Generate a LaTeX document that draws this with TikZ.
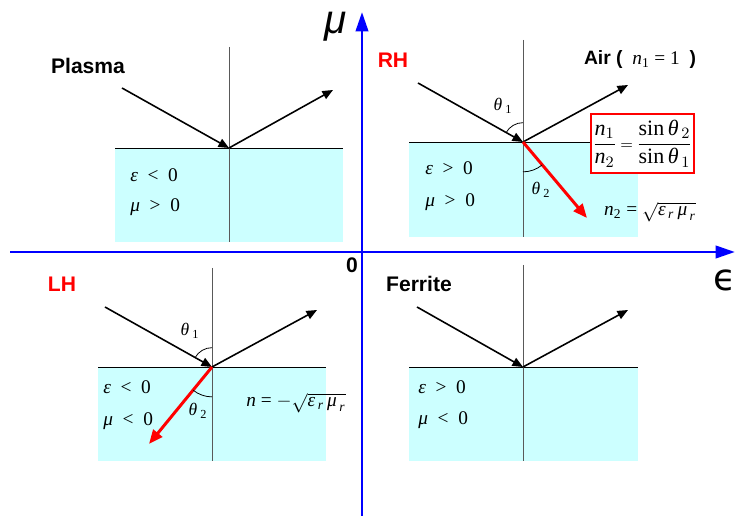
\documentclass[tikz,border=0pt]{standalone}
\usepackage{fontspec}
\usepackage{amsmath}
\setmainfont{Liberation Serif}
\newfontfamily\etichetta{Liberation Sans}
\newfontfamily\assefont{DejaVu Sans}
\usetikzlibrary{arrows.meta}
\definecolor{acqua}{HTML}{CCFFFF}
\definecolor{blu}{HTML}{0000FF}

\begin{document}
\begin{tikzpicture}[x=0.02cm,y=-0.02cm,
    mezzo/.style={fill=acqua},
    normale/.style={gray!70!black,line width=0.5pt},
    raggio/.style={-{Triangle[length=6pt,width=5pt]},line width=0.9pt},
    rifratto/.style={red,-{Triangle[length=8pt,width=6.5pt]},line width=1.7pt},
    asse/.style={blu,line width=1.7pt,-{Triangle[length=11pt,width=7pt]}},
    arco/.style={line width=0.45pt},
    nome/.style={font=\etichetta\bfseries\fontsize{12}{14}\selectfont},
    segno/.style={anchor=west,inner sep=0pt,font=\fontsize{11}{13}\selectfont},
    angolo/.style={inner sep=0pt,font=\fontsize{10}{12}\selectfont}]
  \useasboundingbox (0,0) rectangle (735,516);
  % Mezzi
  \fill[mezzo] (115,148) rectangle (343,242);
  \fill[mezzo] (409,142) rectangle (638,237);
  \fill[mezzo] (98,367) rectangle (326,461);
  \fill[mezzo] (409,367) rectangle (638,461);
  \draw (115,148) -- (343,148);
  \draw (409,142) -- (638,142);
  \draw (98,367) -- (326,367);
  \draw (409,367) -- (638,367);
  % Normali
  \draw[normale] (229,47) -- (229,242);
  \draw[normale] (523,40) -- (523,237);
  \draw[normale] (212,268) -- (212,461);
  \draw[normale] (523,265) -- (523,461);
  % Assi
  \coordinate (ovest) at (10,252);
  \coordinate (est) at (735,252);
  \coordinate (sud) at (362,516);
  \coordinate (nord) at (362,12);
  \draw[asse] (ovest) -- (est);
  \draw[asse] (sud) -- (nord);
  \node (mu) at (336,27) {\etichetta\itshape\fontsize{23}{26}\selectfont μ};
  \node[inner sep=0pt] (eps) at (725,280) {\assefont\fontsize{21}{26}\selectfont ϵ};
  \node (zero) at (352,265) {\etichetta\bfseries\fontsize{12}{14}\selectfont 0};
  % Plasma
  \coordinate (h1) at (229,148);
  \coordinate (s1) at (122,88);
  \coordinate (r1) at (333,90);
  \draw[raggio] (s1) -- (h1);
  \draw[raggio] (h1) -- (r1);
  \node[nome] (plasma) at (88,66) {Plasma};
  \node[segno] (e1) at (130,175) {\textit{ε}\ \ <\ \ 0};
  \node[segno] (m1) at (130,207) {\textit{μ}\ \ >\ \ 0};
  % RH
  \coordinate (h2) at (523,142);
  \coordinate (s2) at (418,83);
  \coordinate (r2) at (628,85);
  \coordinate (t2) at (587,218);
  \draw[raggio] (s2) -- (h2);
  \draw[raggio] (h2) -- (r2);
  \draw[rifratto] (h2) -- (t2);
  \draw[arco] ([shift={(90:11pt)}]h2) arc[start angle=90,end angle=151,radius=11pt];
  \draw[arco] ([shift={(-90:17pt)}]h2) arc[start angle=-90,end angle=-50,radius=17pt];
  \node[angolo] (t1rh) at (503,106) {\textit{θ}\,\textsubscript{1}};
  \node[angolo] (t2rh) at (541,190) {\textit{θ}\,\textsubscript{2}};
  \node[nome,red] (rh) at (393,60) {RH};
  \node[segno] (e2) at (425,168) {\textit{ε}\ \ >\ \ 0};
  \node[segno] (m2) at (425,202) {\textit{μ}\ \ >\ \ 0};
  \node[draw=red,fill=white,line width=0.8pt,minimum width=2.06cm,minimum height=1.18cm,inner sep=1pt]
    (snell) at (642.5,143.5)
    {\fontsize{12.5}{15}\selectfont$\dfrac{\mathit{n}_1}{\mathit{n}_2}\,{\scriptstyle=}\,\dfrac{\sin\textit{θ}_{\,2}}{\sin\textit{θ}_{\,1}}$};
  \node (n2) at (650,212) {\fontsize{11}{13}\selectfont\textit{n}\textsubscript{2} = $\sqrt{\textit{ε}_{\,\mathit{r}}\,\textit{μ}_{\,\mathit{r}}}$};
  \node (aria) at (640,60) {\fontsize{11}{13}\selectfont{\etichetta\bfseries Air (}\ \ \textit{n}\textsubscript{1} = 1\ \ {\etichetta\bfseries )}};
  % LH
  \coordinate (h3) at (212,367);
  \coordinate (s3) at (105,307);
  \coordinate (r3) at (317,310);
  \coordinate (t3) at (149,444);
  \draw[raggio] (s3) -- (h3);
  \draw[raggio] (h3) -- (r3);
  \draw[rifratto] (h3) -- (t3);
  \draw[arco] ([shift={(90:11pt)}]h3) arc[start angle=90,end angle=151,radius=11pt];
  \draw[arco] ([shift={(-129:17pt)}]h3) arc[start angle=-129,end angle=-90,radius=17pt];
  \node[angolo] (t1lh) at (190,331) {\textit{θ}\,\textsubscript{1}};
  \node[angolo] (t2lh) at (198,411) {\textit{θ}\,\textsubscript{2}};
  \node[nome,red] (lh) at (62,284) {LH};
  \node[segno] (e3) at (103,387) {\textit{ε}\ \ <\ \ 0};
  \node[segno] (m3) at (103,421) {\textit{μ}\ \ <\ \ 0};
  \node (nlh) at (296,403) {\fontsize{11}{13}\selectfont\textit{n} = $-\sqrt{\textit{ε}_{\,\mathit{r}}\,\textit{μ}_{\,\mathit{r}}}$};
  % Ferrite
  \coordinate (h4) at (523,367);
  \coordinate (s4) at (417,307);
  \coordinate (r4) at (628,310);
  \draw[raggio] (s4) -- (h4);
  \draw[raggio] (h4) -- (r4);
  \node[nome] (ferrite) at (419,284) {Ferrite};
  \node[segno] (e4) at (418,387) {\textit{ε}\ \ >\ \ 0};
  \node[segno] (m4) at (418,420) {\textit{μ}\ \ <\ \ 0};
\end{tikzpicture}
\end{document}
